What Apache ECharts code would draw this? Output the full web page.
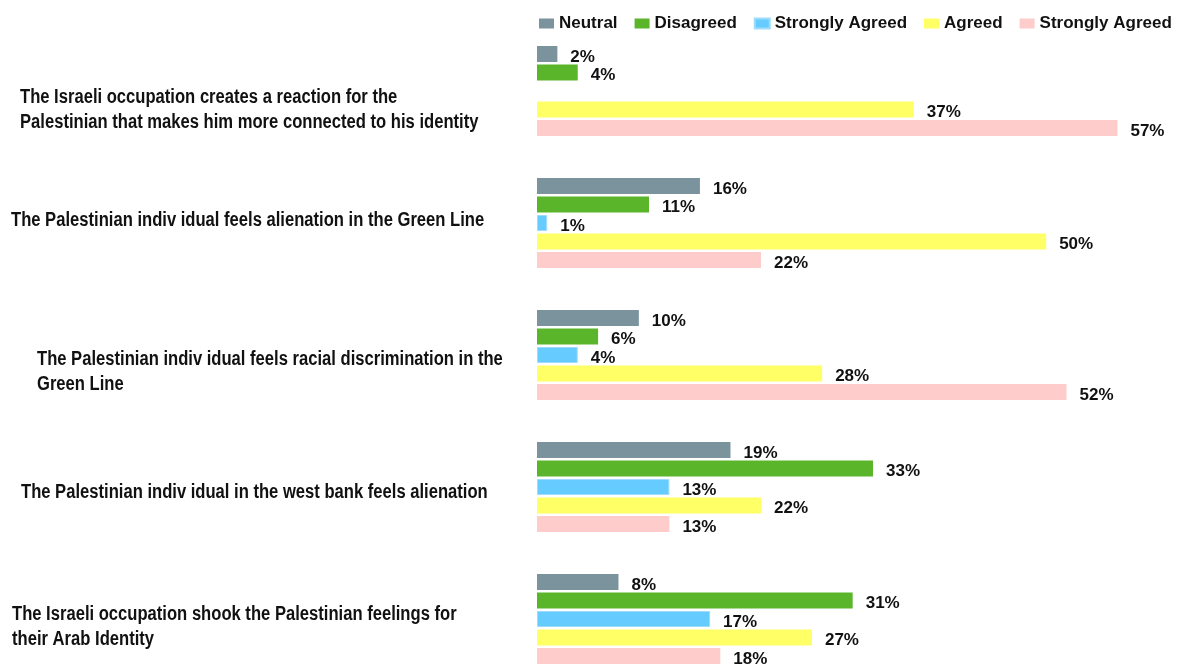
<!DOCTYPE html>
<html>
<head>
<meta charset="utf-8">
<script src="https://cdn.jsdelivr.net/npm/echarts@6/dist/echarts.min.js"></script>
<style>
  html, body { margin: 0; padding: 0; background: #ffffff; overflow: hidden; }
  #chart { width: 1183px; height: 666px; }
</style>
</head>
<body>
<div id="chart"></div>
<script>
// Survey statements (top to bottom)
const categories = [
  'The Israeli occupation creates a reaction for the\nPalestinian that makes him more connected to his identity',
  'The Palestinian indiv idual feels alienation in the Green Line',
  'The Palestinian indiv idual feels racial discrimination in the\nGreen Line',
  'The Palestinian indiv idual in the west bank feels alienation',
  'The Israeli occupation shook the Palestinian feelings for\ntheir Arab Identity'
];

// Response shares, percent
const neutral            = [2, 16, 10, 19, 8];
const disagreed          = [4, 11, 6, 33, 31];
const stronglyAgreedBlue = [null, 1, 4, 13, 17];
const agreed             = [37, 50, 28, 22, 27];
const stronglyAgreedPink = [57, 22, 52, 13, 18];

// Legend texts, one per series (two share the same wording)
const legendLabels = ['Neutral', 'Disagreed', 'Strongly Agreed', 'Agreed', 'Strongly Agreed'];

// Placement of statement text: left edge and vertical shift from the category centre
const statementLeft  = [20, 11, 37, 21, 12];
const statementShift = [19, -3, 17, 5, 8];

const FONT = "'Liberation Sans', Arial, sans-serif";

const seriesKeys = ['neutral', 'disagreed', 'saBlue', 'agreed', 'saPink'];
const seriesData = [neutral, disagreed, stronglyAgreedBlue, agreed, stronglyAgreedPink];
const seriesColors = ['#7b939d', '#5bb52b', '#66ccff', '#ffff66', '#ffcccc'];

const chart = echarts.init(document.getElementById('chart'), null, { renderer: 'canvas' });

const series = seriesKeys.map((key, i) => ({
  name: key,
  type: 'bar',
  data: seriesData[i],
  barWidth: 16,
  barGap: '15.6%',
  itemStyle: i === 2
    ? { color: seriesColors[i], borderColor: '#9fdcfb', borderWidth: 1 }
    : { color: seriesColors[i] },
  label: {
    show: true,
    position: 'right',
    distance: 13,
    offset: [0, 3],
    formatter: '{c}%',
    color: '#111111',
    fontFamily: FONT,
    fontWeight: 'bold',
    fontSize: 17
  },
  emphasis: { disabled: true },
  animation: false
}));

chart.setOption({
  animation: false,
  backgroundColor: '#ffffff',
  grid: { left: 537, right: 35, top: 25, bottom: -19, outerBoundsMode: 'none', containLabel: false },
  legend: {
    data: seriesKeys.map((key, i) => i === 2
      ? { name: key, textStyle: { padding: [0, 6, 0, 0] } }
      : { name: key }),
    left: 539,
    top: 15,
    padding: 0,
    icon: 'rect',
    itemWidth: 15,
    itemHeight: 10,
    itemGap: 17,
    textStyle: { fontFamily: FONT, fontWeight: 'bold', fontSize: 17, color: '#111111' },
    formatter: name => legendLabels[seriesKeys.indexOf(name)],
    selectedMode: false
  },
  xAxis: {
    type: 'value',
    min: 0,
    max: 60,
    show: false
  },
  yAxis: {
    type: 'category',
    data: categories,
    inverse: true,
    axisLine: { show: false },
    axisTick: { show: false },
    axisLabel: { show: false },
    splitLine: { show: false }
  },
  series: series
});

// Statement texts on the left, anchored to each category's position on the axis
const statementGraphics = categories.map((text, i) => {
  const cy = chart.convertToPixel({ yAxisIndex: 0 }, i);
  return {
    type: 'text',
    x: statementLeft[i],
    y: cy + statementShift[i],
    scaleX: 0.83,
    style: {
      text: text,
      fontFamily: FONT,
      fontWeight: 'bold',
      fontSize: 20,
      lineHeight: 24.5,
      fill: '#111111',
      align: 'left',
      verticalAlign: 'middle'
    },
    silent: true
  };
});

chart.setOption({ graphic: statementGraphics });
</script>
</body>
</html>
